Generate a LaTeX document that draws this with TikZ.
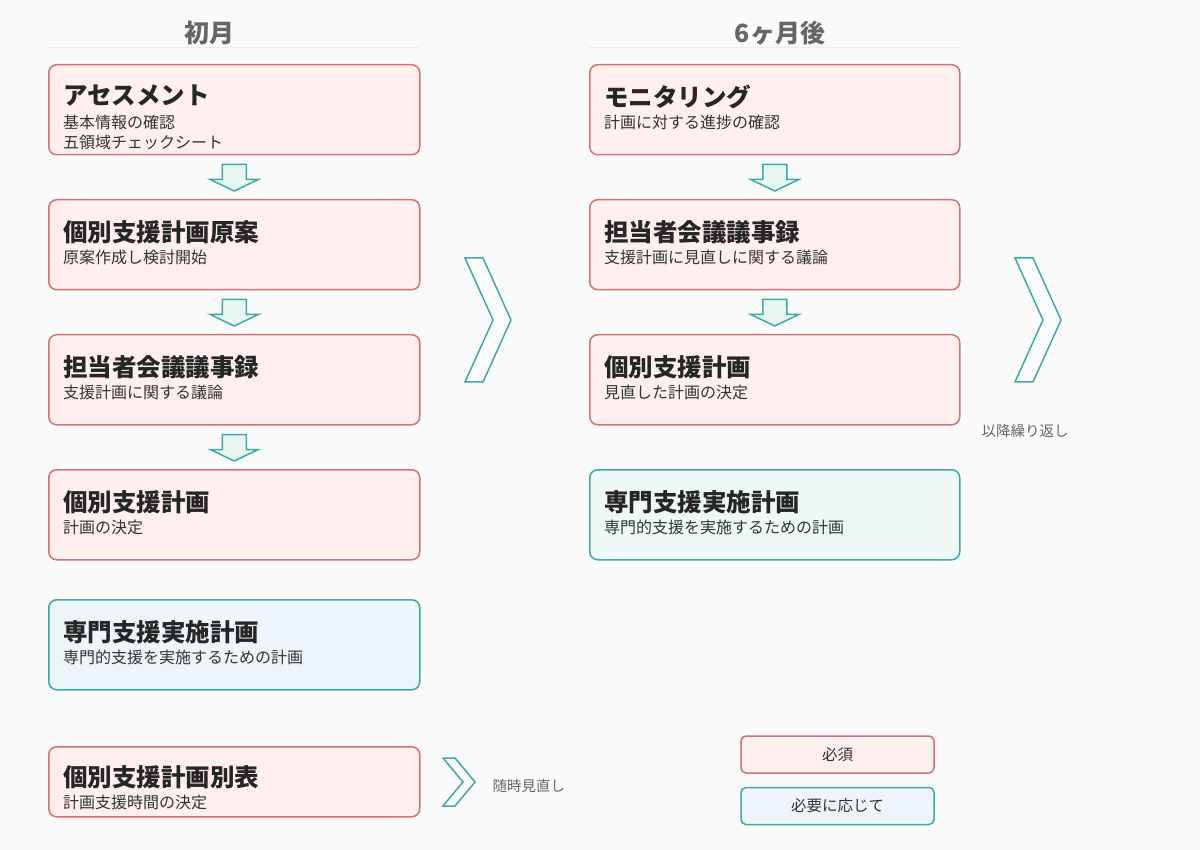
\documentclass[tikz,border=0pt]{standalone}
\usepackage{fontspec}
\setmainfont{Noto Sans CJK JP}
\usetikzlibrary{positioning,calc}
\definecolor{reqline}{HTML}{D27373}
\definecolor{reqfill}{HTML}{FFEFEF}
\definecolor{optline}{HTML}{3BABA6}
\definecolor{optfill}{HTML}{EDF5FA}
\definecolor{optfillb}{HTML}{EEF8F7}
\definecolor{arrfill}{HTML}{E8F6F2}
\definecolor{headtext}{HTML}{666666}
\begin{document}
\begin{tikzpicture}[x=1pt,y=-1pt,
    stepbox/.style={draw=reqline, fill=reqfill, line width=1.5pt, rounded corners=8pt,
      minimum width=371pt, minimum height=90pt, anchor=north west, inner sep=0pt},
    optbox/.style={stepbox, draw=optline, fill=optfill},
    ttl/.style={anchor=north west, font=\fontsize{24.5}{28}\selectfont\bfseries, text=black!85, inner sep=0pt},
    sub/.style={anchor=north west, font=\fontsize{16}{20}\selectfont, text=black!80, inner sep=0pt, align=left},
    head/.style={font=\fontsize{25}{28}\selectfont\bfseries, text=headtext},
    legbox/.style={draw=reqline, fill=reqfill, line width=1.5pt, rounded corners=5pt,
      minimum width=193pt, minimum height=37pt, font=\fontsize{15.5}{18}\selectfont, text=black!80},
    note/.style={anchor=west, font=\fontsize{14.5}{16}\selectfont, text=black!60},
    blk/.style={draw=optline, fill=arrfill, line width=1.5pt, line join=miter}
  ]
\fill[black!2] (0,0) rectangle (1200,850);

% Headers
\node[head] (h1) at (209,33) {初月};
\node[head] (h2) at (780,33) {6ヶ月後};
\draw[black!8, line width=0.8pt] (48,47) -- (419,47);
\draw[black!8, line width=0.8pt] (589,47) -- (959,47);

% Left column
\foreach \n/\y/\st/\t/\s in {
  a1/64/stepbox/アセスメント/{基本情報の確認\\五領域チェックシート},
  a2/199/stepbox/個別支援計画原案/原案作成し検討開始,
  a3/334/stepbox/担当者会議議事録/支援計画に関する議論,
  a4/469/stepbox/個別支援計画/計画の決定,
  a5/599/optbox/専門支援実施計画/専門的支援を実施するための計画} {
  \node[\st] (\n) at (48,\y) {};
  \node[ttl] at ([shift={(15,21)}]\n.north west) {\t};
  \node[sub] at ([shift={(15,51)}]\n.north west) {\s};
}
\node[stepbox, minimum height=70pt] (a6) at (48,746) {};
\node[ttl] at ([shift={(15,19)}]a6.north west) {個別支援計画別表};
\node[sub] at ([shift={(15,49)}]a6.north west) {計画支援時間の決定};

% Right column
\foreach \n/\y/\st/\t/\s in {
  b1/64/stepbox/モニタリング/計画に対する進捗の確認,
  b2/199/stepbox/担当者会議議事録/支援計画に見直しに関する議論,
  b3/334/stepbox/個別支援計画/見直した計画の決定} {
  \node[\st, minimum width=370pt] (\n) at (589,\y) {};
  \node[ttl] at ([shift={(15,21)}]\n.north west) {\t};
  \node[sub] at ([shift={(15,51)}]\n.north west) {\s};
}
\node[optbox, fill=optfillb, minimum width=370pt] (b4) at (589,469) {};
\node[ttl] at ([shift={(15,21)}]b4.north west) {専門支援実施計画};
\node[sub] at ([shift={(15,51)}]b4.north west) {専門的支援を実施するための計画};

% Down arrows between boxes
\foreach \p/\q in {a1/a2, a2/a3, a3/a4, b1/b2, b2/b3} {
  \draw[blk] ($(\p.south)+(-12,9)$) -- ++(24,0) -- ++(0,15) -- ++(12,0)
    -- ($(\q.north)+(0,-8)$) -- ($(\p.south)+(-24,24)$) -- ++(12,0) -- cycle;
}

% Chevrons
\coordinate (c1) at (465,258);
\coordinate (c2) at (1015,258);
\foreach \c in {c1,c2} {
  \draw[blk, fill=black!1] (\c) -- ++(18,0) -- ++(28,62) -- ++(-28,62) -- ++(-18,0) -- ++(28,-62) -- cycle;
}
\coordinate (c3) at (443,758);
\draw[blk, fill=black!1] (c3) -- ++(12,0) -- ++(20,24) -- ++(-20,24) -- ++(-12,0) -- ++(20,-24) -- cycle;
\node[note] (n1) at (978,431) {以降繰り返し};
\node[note] (n2) at (489,786) {随時見直し};

% Legend
\node[legbox] (l1) at (837.5,754.5) {必須};
\node[legbox, draw=optline, fill=optfill, below=13pt of l1] (l2) {必要に応じて};
\end{tikzpicture}
\end{document}
